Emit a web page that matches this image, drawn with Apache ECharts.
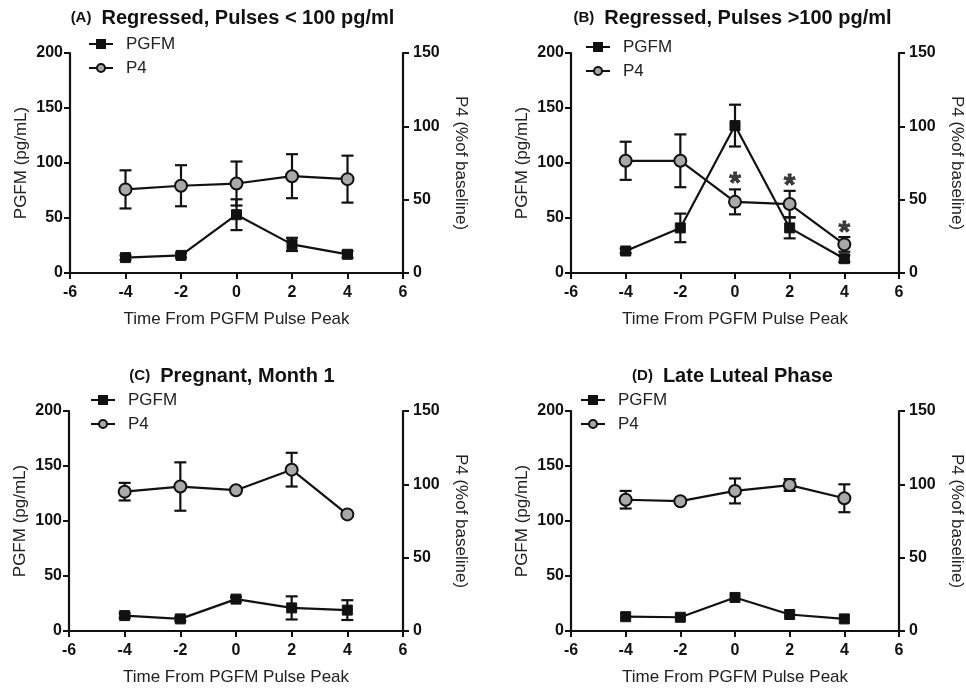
<!DOCTYPE html>
<html>
<head>
<meta charset="utf-8">
<script src="https://cdn.jsdelivr.net/npm/echarts@6/dist/echarts.min.js"></script>
<style>
  html, body { margin: 0; padding: 0; background: #fff; }
  #chart { width: 966px; height: 688px; }
</style>
</head>
<body>
<div id="chart"></div>
<script>
// time from PGFM pulse peak (h)
const times = [-4, -2, 0, 2, 4]

// (A) Regressed, pulses < 100 pg/ml
const pgfmA = [14, 16, 53, 26, 17]
const pgfmErrA = [2, 2, 14, 6, 3]
const p4A = [57, 59.5, 61, 66, 64]
const p4ErrA = [13, 14, 15, 15, 16]

// (B) Regressed, pulses > 100 pg/ml
const pgfmB = [20, 41, 134, 41, 13]
const pgfmErrB = [2, 13, 19, 9.5, 3]
const p4B = [76.5, 76.5, 48.5, 47, 19.5]
const p4ErrB = [13, 18, 8.5, 9, 5]
const starTimesB = [0, 2, 4]
const starP4B = [63.5, 62, 30.5]

// (C) Pregnant, month 1
const pgfmC = [14, 11, 29, 21, 19]
const pgfmErrC = [2, 2, 2, 10.5, 9]
const p4C = [95, 98.5, 96, 110, 79.5]
const p4ErrC = [6, 16.5, 0, 11.5, 0]

// (D) Late luteal phase
const pgfmD = [13, 12.5, 30.5, 15, 11]
const pgfmErrD = [0, 0, 0, 0, 0]
const p4D = [89.5, 88.5, 95.5, 99.5, 90.5]
const p4ErrD = [6, 0, 8.5, 4, 9.5]

const panelLetters = ['(A)', '(B)', '(C)', '(D)']
const panelTitles = [
  'Regressed, Pulses < 100 pg/ml',
  'Regressed, Pulses >100 pg/ml',
  'Pregnant, Month 1',
  'Late Luteal Phase'
]

const FONT = '"Liberation Sans", Arial, Helvetica, sans-serif'

// grid boxes (pixels)
const grids = [
  { left: 70, top: 53, width: 333, height: 220 },
  { left: 571, top: 53, width: 331, height: 220 },
  { left: 69, top: 411, width: 334, height: 220 },
  { left: 571, top: 411, width: 331, height: 220 }
]
const legendPos = [
  { left: 88, top: 34 },
  { left: 585, top: 37 },
  { left: 90, top: 390 },
  { left: 580, top: 390 }
]

const panels = [
  { pgfm: pgfmA, pgfmErr: pgfmErrA, p4: p4A, p4Err: p4ErrA },
  { pgfm: pgfmB, pgfmErr: pgfmErrB, p4: p4B, p4Err: p4ErrB },
  { pgfm: pgfmC, pgfmErr: pgfmErrC, p4: p4C, p4Err: p4ErrC },
  { pgfm: pgfmD, pgfmErr: pgfmErrD, p4: p4D, p4Err: p4ErrD }
]

const toPairs = (ys) => times.map((t, i) => [t, ys[i]])
const toErr = (ys, es) => times.map((t, i) => [t, ys[i] - es[i], ys[i] + es[i], es[i]])

// mean ± SEM with caps
const renderErrorBar = (params, api) => {
  if (api.value(3) <= 0) return null
  const lo = api.coord([api.value(0), api.value(1)])
  const hi = api.coord([api.value(0), api.value(2)])
  const cap = 6
  const style = { stroke: '#111', lineWidth: 2.2 }
  return {
    type: 'group',
    children: [
      { type: 'line', shape: { x1: lo[0], y1: lo[1], x2: hi[0], y2: hi[1] }, style },
      { type: 'line', shape: { x1: hi[0] - cap, y1: hi[1], x2: hi[0] + cap, y2: hi[1] }, style },
      { type: 'line', shape: { x1: lo[0] - cap, y1: lo[1], x2: lo[0] + cap, y2: lo[1] }, style }
    ]
  }
}

const axisCommon = {
  axisLine: { lineStyle: { color: '#111', width: 2.2 } },
  axisTick: { length: 6, lineStyle: { color: '#111', width: 2 } },
  splitLine: { show: false },
  nameTextStyle: { color: '#222', fontSize: 17, fontFamily: FONT },
  axisLabel: { color: '#111', fontSize: 16, fontWeight: 'bold', fontFamily: FONT }
}

const title = []
const grid = []
const xAxis = []
const yAxis = []
const legend = []
const series = []

panels.forEach((p, i) => {
  const g = grids[i]
  grid.push(g)

  title.push({
    text: `{a|${panelLetters[i]}}  {b|${panelTitles[i]}}`,
    left: g.left + g.width / 2 - 4,
    top: g.top - 45,
    textAlign: 'center',
    padding: 0,
    textStyle: {
      rich: {
        a: { fontSize: 15, fontWeight: 'bold', color: '#111', fontFamily: FONT },
        b: { fontSize: 20, fontWeight: 'bold', color: '#111', fontFamily: FONT }
      }
    }
  })

  xAxis.push({
    ...axisCommon,
    type: 'value',
    gridIndex: i,
    min: -6,
    max: 6,
    interval: 2,
    name: 'Time From PGFM Pulse Peak',
    nameLocation: 'middle',
    nameGap: 38,
    axisLabel: { ...axisCommon.axisLabel, margin: 12 }
  })

  yAxis.push({
    ...axisCommon,
    type: 'value',
    gridIndex: i,
    position: 'left',
    min: 0,
    max: 200,
    interval: 50,
    name: 'PGFM (pg/mL)',
    nameLocation: 'middle',
    nameGap: 40,
    axisLine: { ...axisCommon.axisLine, onZero: false },
    axisLabel: { ...axisCommon.axisLabel, margin: 7 }
  })
  yAxis.push({
    ...axisCommon,
    type: 'value',
    gridIndex: i,
    position: 'right',
    min: 0,
    max: 150,
    interval: 50,
    name: 'P4 (%of baseline)',
    nameLocation: 'middle',
    nameRotate: -90,
    nameGap: 49,
    axisLine: { ...axisCommon.axisLine, onZero: false },
    axisLabel: { ...axisCommon.axisLabel, margin: 10 }
  })

  legend.push({
    orient: 'vertical',
    left: legendPos[i].left,
    top: legendPos[i].top,
    padding: 0,
    itemWidth: 24,
    itemHeight: 10,
    itemGap: 4,
    data: ['PGFM', 'P4'],
    textStyle: { fontSize: 17, lineHeight: 20, color: '#222', fontFamily: FONT, padding: [0, 0, 0, 8] }
  })

  const left = i * 2
  const right = i * 2 + 1

  series.push({
    type: 'custom',
    xAxisIndex: i,
    yAxisIndex: left,
    renderItem: renderErrorBar,
    data: toErr(p.pgfm, p.pgfmErr),
    z: 1,
    silent: true
  })
  series.push({
    type: 'custom',
    xAxisIndex: i,
    yAxisIndex: right,
    renderItem: renderErrorBar,
    data: toErr(p.p4, p.p4Err),
    z: 1,
    silent: true
  })
  series.push({
    name: 'PGFM',
    type: 'line',
    xAxisIndex: i,
    yAxisIndex: left,
    data: toPairs(p.pgfm),
    symbol: 'rect',
    symbolSize: 10,
    lineStyle: { color: '#111', width: 2.2 },
    itemStyle: { color: '#111', borderColor: '#111', borderWidth: 1 },
    z: 3
  })
  series.push({
    name: 'P4',
    type: 'line',
    xAxisIndex: i,
    yAxisIndex: right,
    data: toPairs(p.p4),
    symbol: 'circle',
    symbolSize: 12,
    lineStyle: { color: '#111', width: 2.2 },
    itemStyle: { color: '#a9a9a9', borderColor: '#111', borderWidth: 2 },
    z: 4
  })
})

// significance markers on panel B
series.push({
  type: 'scatter',
  xAxisIndex: 1,
  yAxisIndex: 3,
  data: starTimesB.map((t, i) => [t, starP4B[i]]),
  symbolSize: 2,
  itemStyle: { color: 'rgba(0,0,0,0)' },
  label: {
    show: true,
    position: 'inside',
    formatter: '*',
    fontSize: 30,
    fontWeight: 'bold',
    color: '#111',
    textBorderColor: '#111',
    textBorderWidth: 0.8,
    fontFamily: FONT,
    offset: [0, 4]
  },
  silent: true,
  z: 5
})

const chart = echarts.init(document.getElementById('chart'), null, { renderer: 'canvas' })
chart.setOption({
  backgroundColor: '#fff',
  animation: false,
  title,
  grid,
  xAxis,
  yAxis,
  legend,
  series
})
</script>
</body>
</html>
